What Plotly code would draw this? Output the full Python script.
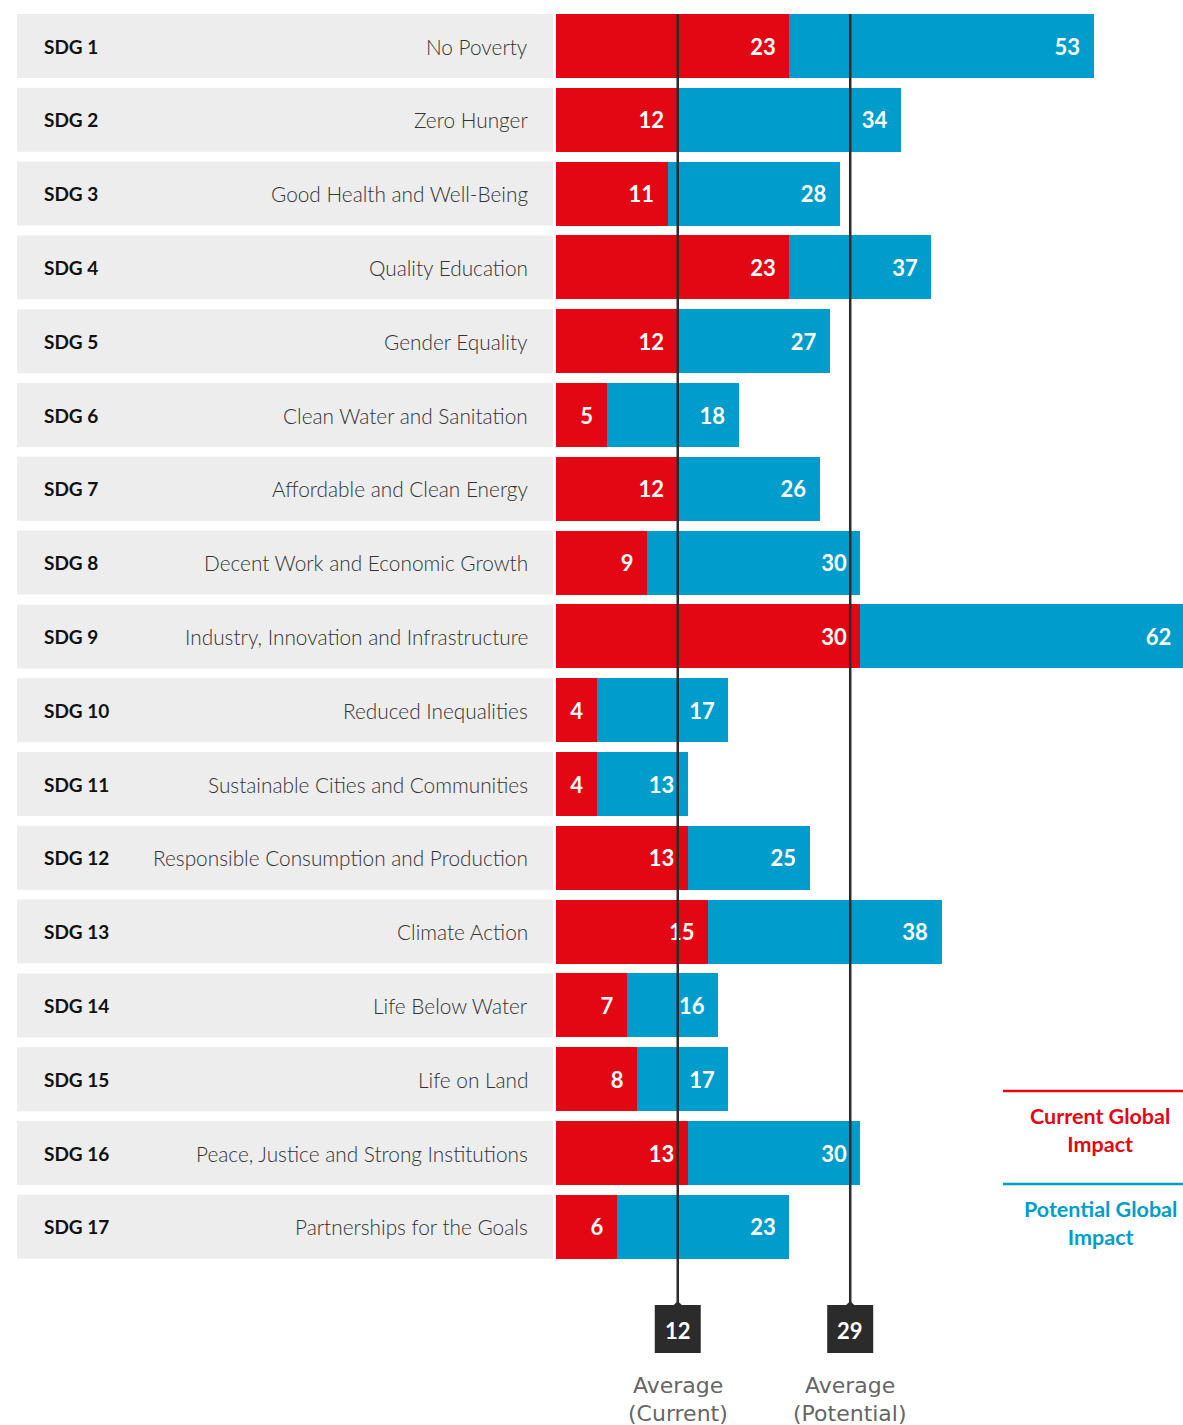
import plotly.graph_objects as go

# ---- data ----
codes = ["SDG 1", "SDG 2", "SDG 3", "SDG 4", "SDG 5", "SDG 6", "SDG 7", "SDG 8", "SDG 9",
         "SDG 10", "SDG 11", "SDG 12", "SDG 13", "SDG 14", "SDG 15", "SDG 16", "SDG 17"]
names = ["No Poverty", "Zero Hunger", "Good Health and Well-Being", "Quality Education",
         "Gender Equality", "Clean Water and Sanitation", "Affordable and Clean Energy",
         "Decent Work and Economic Growth", "Industry, Innovation and Infrastructure",
         "Reduced Inequalities", "Sustainable Cities and Communities",
         "Responsible Consumption and Production", "Climate Action", "Life Below Water",
         "Life on Land", "Peace, Justice and Strong Institutions", "Partnerships for the Goals"]
current = [23, 12, 11, 23, 12, 5, 12, 9, 30, 4, 4, 13, 15, 7, 8, 13, 6]
potential = [53, 34, 28, 37, 27, 18, 26, 30, 62, 17, 13, 25, 38, 16, 17, 30, 23]
avg_current = 12
avg_potential = 29
avg_labels = [("Average", "(Current)"), ("Average", "(Potential)")]
legend_labels = ["Current Global<br>Impact", "Potential Global<br>Impact"]

# ---- style ----
W, H = 1183, 1425
RED = "#E30613"
BLUE = "#009CCB"
GREY = "#EDEDED"
DARK = "#2B2B2B"
BAR_W = 0.867
FONT = "Lato"
X_MAX = 61.8


def px(x):  # pixel x -> paper
    return x / W


def py(y):  # pixel y (from top) -> paper
    return 1 - y / H


n = len(codes)
idx = list(range(n))
pad = "\u00a0\u00a0"

fig = go.Figure()
for vals, col in [(potential, BLUE), (current, RED)]:
    fig.add_trace(go.Bar(
        y=idx, x=vals, orientation="h", width=BAR_W,
        marker=dict(color=col, line=dict(width=0)),
        text=[f"{v}{pad}" for v in vals], textposition="inside", insidetextanchor="end",
        textangle=0, constraintext="none",
        textfont=dict(family=FONT, size=22, color="white", weight=700), hoverinfo="skip",
    ))

shapes = []
annotations = []
for i in idx:
    shapes.append(dict(type="rect", xref="paper", yref="y", x0=px(17), x1=px(553),
                       y0=i - BAR_W / 2, y1=i + BAR_W / 2, fillcolor=GREY,
                       line=dict(width=0), layer="below"))
    annotations.append(dict(xref="paper", yref="y", x=px(42), y=i, text=codes[i],
                            xanchor="left", yanchor="middle", showarrow=False,
                            font=dict(family=FONT, size=19, color="#111", weight=700)))
    annotations.append(dict(xref="paper", yref="y", x=px(530), y=i, text=names[i],
                            xanchor="right", yanchor="middle", showarrow=False,
                            font=dict(family=FONT, size=20.8, color="#333", weight=300)))

for val, lab in zip([avg_current, avg_potential], avg_labels):
    shapes.append(dict(type="line", xref="x", yref="paper", x0=val, x1=val,
                       y0=py(1305), y1=py(14), line=dict(color=DARK, width=2.5), layer="above"))
    shapes.append(dict(type="path", xref="x", yref="paper", xsizemode="pixel", ysizemode="pixel",
                       xanchor=val, yanchor=py(1353),
                       path="M-23,0 L23,0 L23,48 L4,48 L0,52 L-4,48 L-23,48 Z",
                       fillcolor=DARK, line=dict(width=0), layer="above"))
    annotations.append(dict(xref="x", yref="paper", x=val, y=py(1330), text=f"<b>{val}</b>",
                            showarrow=False, xanchor="center", yanchor="middle",
                            font=dict(family=FONT, size=22, color="white")))
    for k, line in enumerate(lab):
        annotations.append(dict(xref="x", yref="paper", x=val, y=py(1385 + 28 * k), text=line,
                                showarrow=False, xanchor="center", yanchor="middle",
                                font=dict(family="DejaVu Sans", size=22, color="#666")))

# legend
for (ly, color, lab) in [(1091, RED, legend_labels[0]), (1184, BLUE, legend_labels[1])]:
    shapes.append(dict(type="line", xref="paper", yref="paper", x0=px(1003), x1=1,
                       y0=py(ly), y1=py(ly), line=dict(color=color, width=2.5)))
    annotations.append(dict(xref="paper", yref="paper", x=px(1100), y=py(ly + 10), text=lab,
                            showarrow=False, xanchor="center", yanchor="top",
                            font=dict(family=FONT, size=21.5, color=color, weight=700)))

fig.update_layout(
    width=W, height=H, margin=dict(l=0, r=0, t=0, b=0),
    paper_bgcolor="white", plot_bgcolor="white",
    barmode="overlay", showlegend=False, bargap=0,
    xaxis=dict(domain=[px(556), 1], range=[0, X_MAX], visible=False,
               showgrid=False, zeroline=False, fixedrange=True),
    yaxis=dict(domain=[py(1263.7), py(9.1)], range=[n - 0.5, -0.5], visible=False,
               showgrid=False, zeroline=False, fixedrange=True),
    shapes=shapes, annotations=annotations,
)
fig.write_html(
    "out.html",
    config={"displayModeBar": False, "staticPlot": True},
    post_script="document.body.style.margin='0';document.body.style.overflow='hidden';",
)
